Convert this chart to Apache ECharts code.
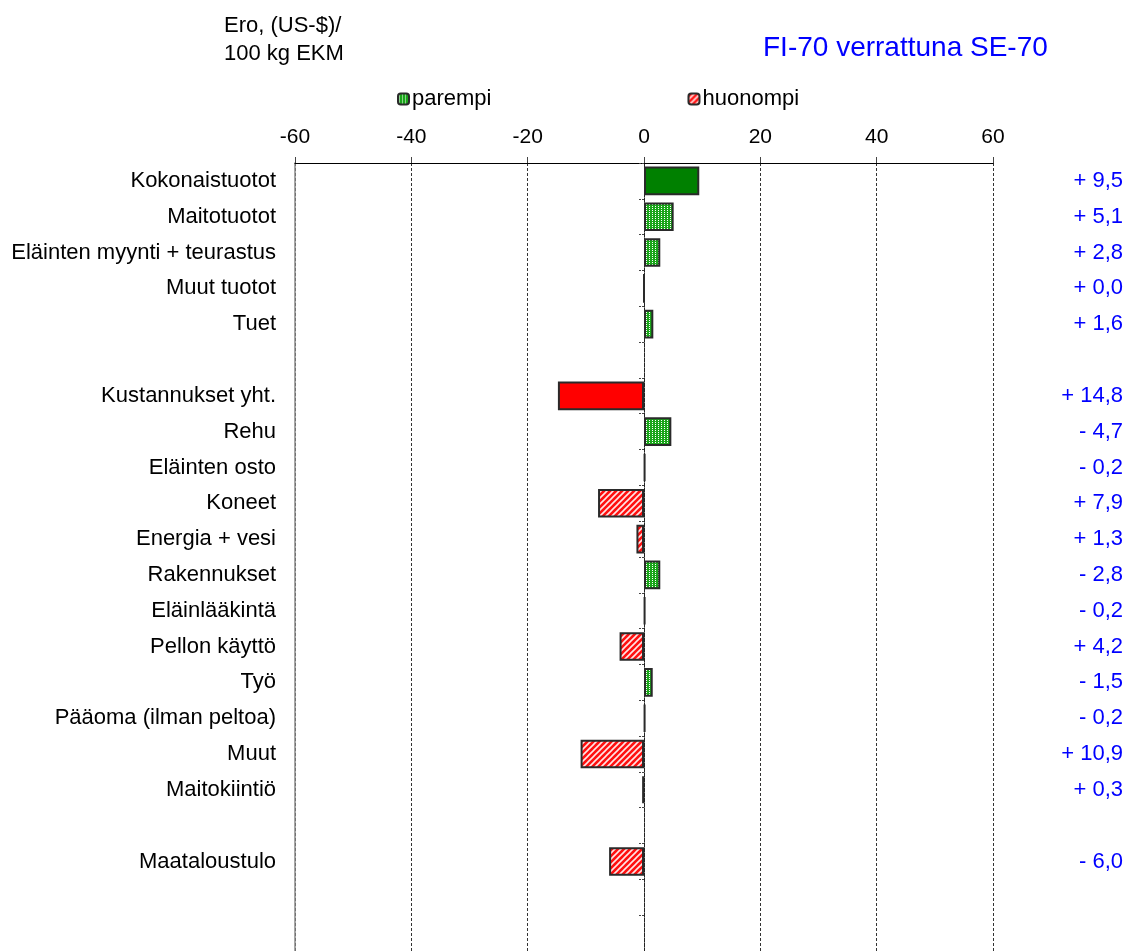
<!DOCTYPE html>
<html>
<head>
<meta charset="utf-8">
<script src="https://cdn.jsdelivr.net/npm/echarts@6/dist/echarts.min.js"></script>
<style>
  html, body { margin: 0; padding: 0; background: #fff; }
  #chart { width: 1126px; height: 951px; }
</style>
</head>
<body>
<div id="chart"></div>
<script>
// Rows of the comparison (blank strings are spacer rows)
const categories = [
  'Kokonaistuotot', 'Maitotuotot', 'Eläinten myynti + teurastus', 'Muut tuotot', 'Tuet',
  ' ',
  'Kustannukset yht.', 'Rehu', 'Eläinten osto', 'Koneet', 'Energia + vesi', 'Rakennukset',
  'Eläinlääkintä', 'Pellon käyttö', 'Työ', 'Pääoma (ilman peltoa)', 'Muut', 'Maitokiintiö',
  '  ',
  'Maataloustulo',
  '   ', '    '
];

// Difference FI-70 minus SE-70, US-$ per 100 kg EKM
const differences = [
  9.5, 5.1, 2.8, 0.0, 1.6,
  null,
  14.8, -4.7, -0.2, 7.9, 1.3, -2.8,
  -0.2, 4.2, -1.5, -0.2, 10.9, 0.3,
  null,
  -6.0,
  null, null
];

// Cost rows: a higher cost is worse, so the bar is drawn with the opposite sign
const costRows = [
  'Kustannukset yht.', 'Rehu', 'Eläinten osto', 'Koneet', 'Energia + vesi', 'Rakennukset',
  'Eläinlääkintä', 'Pellon käyttö', 'Työ', 'Pääoma (ilman peltoa)', 'Muut', 'Maitokiintiö'
];

// Total rows are drawn with a solid fill
const totalRows = ['Kokonaistuotot', 'Kustannukset yht.'];

const xTicks = { min: -60, max: 60, step: 20 };

const FONT = '"Liberation Sans", Arial, sans-serif';

function dotPattern() {
  const c = document.createElement('canvas');
  c.width = 3; c.height = 2;
  const g = c.getContext('2d');
  g.fillStyle = '#1aa51a';
  g.fillRect(0, 0, 3, 2);
  g.fillStyle = '#ffffff';
  g.fillRect(1, 0, 1, 1);
  return { image: c, repeat: 'repeat' };
}

function hatchPattern() {
  const c = document.createElement('canvas');
  c.width = 6; c.height = 6;
  const g = c.getContext('2d');
  g.fillStyle = '#ff1010';
  g.fillRect(0, 0, 6, 6);
  g.strokeStyle = '#ffe6e6';
  g.lineWidth = 1.6;
  g.beginPath();
  g.moveTo(0, 6); g.lineTo(6, 0);
  g.moveTo(-3, 3); g.lineTo(3, -3);
  g.moveTo(3, 9); g.lineTo(9, 3);
  g.stroke();
  return { image: c, repeat: 'repeat' };
}

const greenFill = dotPattern();
const redFill = hatchPattern();

const barValues = differences.map((d, i) =>
  d == null ? null : (costRows.includes(categories[i]) ? -d : d));

function fmtDiff(d) {
  if (d == null) return '';
  const s = Math.abs(d).toFixed(1).replace('.', ',');
  return (d < 0 ? '- ' : '+ ') + s;
}

function buildData(positive) {
  return barValues.map((v, i) => {
    if (v == null) return '-';
    if (positive ? v < 0 : v >= 0) return '-';
    const item = { value: v };
    if (totalRows.includes(categories[i])) {
      item.itemStyle = { color: positive ? '#008000' : '#ff0000' };
    }
    return item;
  });
}

const chart = echarts.init(document.getElementById('chart'), null, { renderer: 'canvas' });

chart.setOption({
  animation: false,
  backgroundColor: '#ffffff',
  textStyle: { fontFamily: FONT },
  title: [
    {
      text: 'FI-70 verrattuna SE-70',
      left: 758, top: 29,
      textStyle: { fontFamily: FONT, fontSize: 28, fontWeight: 'normal', color: '#0000ff' }
    },
    {
      text: 'Ero, (US-$)/\n100 kg EKM',
      left: 219, top: 7,
      textStyle: { fontFamily: FONT, fontSize: 22, fontWeight: 'normal', color: '#000', lineHeight: 28 }
    }
  ],
  legend: {
    left: 392, top: 83,
    itemWidth: 11, itemHeight: 11,
    itemGap: 196,
    textStyle: { fontFamily: FONT, fontSize: 22, color: '#000', padding: [0, 0, 0, -2] },
    data: ['parempi', 'huonompi']
  },
  grid: { left: 295, right: 132, top: 163, height: 793, containLabel: false },
  xAxis: {
    type: 'value',
    position: 'top',
    min: xTicks.min, max: xTicks.max, interval: xTicks.step,
    axisLine: { show: true, onZero: false, lineStyle: { color: '#000', width: 1.2 } },
    axisTick: { show: true, length: 6, lineStyle: { color: '#444' } },
    axisLabel: { fontSize: 21, color: '#000', margin: 15, fontFamily: FONT },
    splitLine: { show: true, lineStyle: { color: '#333', type: [3, 2], width: 1 } }
  },
  yAxis: [
    {
      // category names on the left edge of the plot
      type: 'category', data: categories, inverse: true, position: 'left',
      axisLine: { show: true, onZero: false, lineStyle: { color: '#888', width: 1.5 } },
      axisTick: { show: false },
      axisLabel: { fontSize: 22, color: '#000', margin: 19, fontFamily: FONT },
      splitLine: { show: false }
    },
    {
      // zero line with row ticks
      type: 'category', data: categories, inverse: true, position: 'left',
      axisLine: { show: true, onZero: true, lineStyle: { color: '#222', width: 1, type: [4, 1] } },
      axisTick: { show: true, length: 6, lineStyle: { color: '#444', type: [2, 1] } },
      axisLabel: { show: false },
      splitLine: { show: false }
    },
    {
      // difference values on the right
      type: 'category', data: categories, inverse: true, position: 'right',
      axisLine: { show: false },
      axisTick: { show: false },
      axisLabel: {
        fontSize: 22, color: '#0000ff', margin: 130, align: 'right', fontFamily: FONT,
        formatter: (val, idx) => fmtDiff(differences[idx])
      },
      splitLine: { show: false }
    }
  ],
  series: [
    {
      name: 'parempi', type: 'bar', stack: 'ero', yAxisIndex: 0,
      barCategoryGap: '20%',
      itemStyle: { color: greenFill, borderColor: '#2a2a2a', borderWidth: 2 },
      data: buildData(true)
    },
    {
      name: 'huonompi', type: 'bar', stack: 'ero', yAxisIndex: 0,
      barCategoryGap: '20%',
      itemStyle: { color: redFill, borderColor: '#2a2a2a', borderWidth: 2 },
      data: buildData(false)
    }
  ]
});
</script>
</body>
</html>
